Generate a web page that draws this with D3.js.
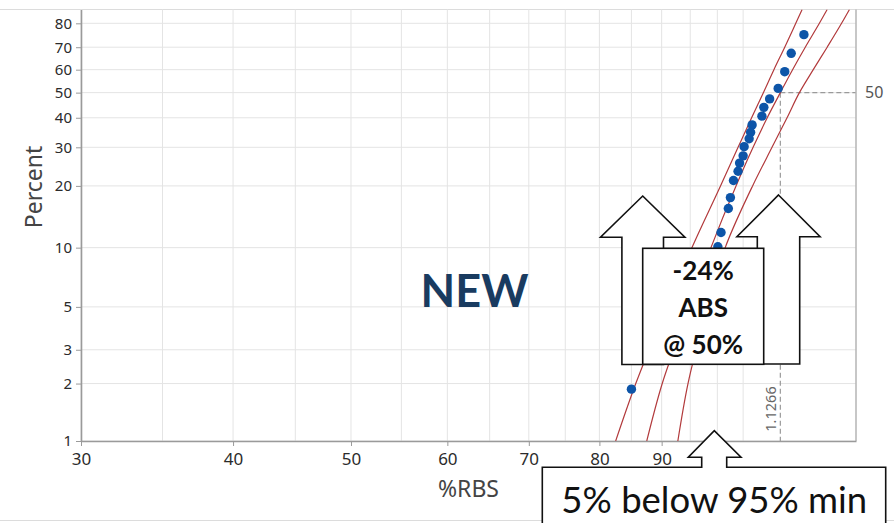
<!DOCTYPE html>
<html>
<head>
<meta charset="utf-8">
<script src="https://cdn.jsdelivr.net/npm/d3@7"></script>
<style>
  html, body { margin: 0; padding: 0; background: #fff; }
  svg { display: block; }
</style>
</head>
<body>
<svg id="chart" width="894" height="523"></svg>
<script>
// ---- data ----
// observed strength values (%RBS) and their plotting positions (percent)
const pointValues = [117.8, 115.0, 113.6, 112.2, 110.4, 109.2, 108.8, 106.8, 106.5, 106.2,
                     105.2, 105.0, 104.3, 104.0, 103.1, 102.5, 102.1, 100.7, 100.1, 85.0];
const pointPercents = [75.4, 67.3, 59.1, 51.8, 47.4, 44.0, 40.6, 37.4, 34.8, 32.7,
                       30.2, 27.5, 25.5, 23.4, 21.2, 17.6, 15.6, 11.9, 10.1, 1.87];

// fitted line and its confidence bounds, sampled at these percents
const curvePercents = [1, 2, 5, 10, 20, 30, 40, 50, 60, 70, 80, 85.1];
const fitValues     = [87.5, 90.1, 94.9, 98.8, 103.6, 107.0, 109.9, 112.66, 115.3, 118.1, 121.3, 123.1];
const lowerValues   = [82.5, 85.7, 90.9, 95.3, 100.6, 104.0, 106.7, 109.1, 111.3, 113.6, 116.0, 117.4];
const upperValues   = [92.8, 94.6, 98.2, 101.5, 106.9, 110.9, 114.1, 116.8, 119.9, 123.1, 126.5, 128.4];

const medianValue = 112.66;   // value at 50 %
const medianLabel = "1.1266";
const medianPercent = 50;

const xTickValues = [30, 40, 50, 60, 70, 80, 90];
const xGridValues = [30, 35, 40, 45, 50, 55, 60, 65, 70, 75, 80, 85, 90, 95, 100, 105];
const yTickValues = [1, 2, 3, 5, 10, 20, 30, 40, 50, 60, 70, 80];

const xDomain = [30, 130];
const yDomain = [1, 85.1];

// ---- layout ----
const svg = d3.select("#chart");
const W = 894, H = 523;
const plot = { left: 81, right: 856, top: 9.5, bottom: 441 };

const axisFont = "'Noto Sans', 'Open Sans', sans-serif";
const calloutFont = "Lato, Carlito, 'Noto Sans', sans-serif";

// ---- scales ----
const xScale = d3.scaleLog().domain(xDomain).range([plot.left, plot.right]);

// Weibull probability scale: linear in ln(-ln(1-p))
const weib = p => Math.log(-Math.log(1 - p / 100));
const yLin = d3.scaleLinear().domain(yDomain.map(weib)).range([plot.bottom, plot.top]);
function makeProbScale() {
  const s = p => yLin(weib(p));
  s.domain = () => yDomain.slice();
  s.range = () => yLin.range();
  s.copy = () => makeProbScale();
  s.ticks = () => yTickValues.slice();
  s.tickFormat = () => d3.format("");
  return s;
}
const yScale = makeProbScale();

// ---- page frame lines ----
svg.append("rect").attr("width", W).attr("height", H).attr("fill", "#fff");
svg.append("line").attr("x1", 0).attr("x2", W).attr("y1", 9.5).attr("y2", 9.5)
  .attr("stroke", "#dcdcdc").attr("stroke-width", 1);
svg.append("line").attr("x1", 0).attr("x2", W).attr("y1", 520.5).attr("y2", 520.5)
  .attr("stroke", "#dcdcdc").attr("stroke-width", 1);

// ---- grid ----
const grid = svg.append("g").attr("class", "grid");
grid.selectAll("line.v").data(xGridValues).join("line").attr("class", "v")
  .attr("x1", d => xScale(d)).attr("x2", d => xScale(d))
  .attr("y1", plot.top).attr("y2", plot.bottom)
  .attr("stroke", "#e4e4e4").attr("stroke-width", 1);
grid.selectAll("line.h").data(yTickValues).join("line").attr("class", "h")
  .attr("x1", plot.left).attr("x2", plot.right)
  .attr("y1", d => yScale(d)).attr("y2", d => yScale(d))
  .attr("stroke", "#e4e4e4").attr("stroke-width", 1);

// ---- reference lines at the 50 % point ----
const ref = svg.append("g").attr("stroke", "#9a9a9a").attr("stroke-width", 1.2)
  .attr("stroke-dasharray", "5,3").attr("fill", "none");
ref.append("line")
  .attr("x1", xScale(medianValue)).attr("x2", plot.right)
  .attr("y1", yScale(medianPercent)).attr("y2", yScale(medianPercent));
ref.append("line")
  .attr("x1", xScale(medianValue)).attr("x2", xScale(medianValue))
  .attr("y1", yScale(medianPercent)).attr("y2", plot.bottom);

// value label written upward alongside the vertical reference line
svg.append("text")
  .attr("transform", `translate(${xScale(medianValue) - 4},409) rotate(-90)`)
  .attr("text-anchor", "middle")
  .attr("font-family", axisFont).attr("font-size", 14.5).attr("fill", "#666")
  .text(medianLabel);

svg.append("text")
  .attr("x", plot.right + 9).attr("y", yScale(medianPercent)).attr("dy", "0.35em")
  .attr("font-family", axisFont).attr("font-size", 16).attr("fill", "#555")
  .text(String(medianPercent));

// ---- frame / axes ----
svg.append("line").attr("x1", plot.right).attr("x2", plot.right)
  .attr("y1", plot.top).attr("y2", plot.bottom)
  .attr("stroke", "#b4b4b4").attr("stroke-width", 1.5);

const xAxis = d3.axisBottom(xScale).tickValues(xTickValues)
  .tickFormat(d3.format("d")).tickSizeInner(5).tickSizeOuter(0).tickPadding(7);
const gx = svg.append("g").attr("transform", `translate(0,${plot.bottom})`).call(xAxis);
gx.select(".domain").attr("stroke", "#9a9a9a").attr("stroke-width", 1.6);
gx.selectAll(".tick line").attr("stroke", "#9a9a9a");
gx.selectAll(".tick text").attr("font-family", axisFont).attr("font-size", 17).attr("fill", "#2b2b2b");

const yAxis = d3.axisLeft(yScale).tickValues(yTickValues)
  .tickFormat(d3.format("d")).tickSizeInner(5).tickSizeOuter(0).tickPadding(4);
const gy = svg.append("g").attr("transform", `translate(${plot.left},0)`).call(yAxis);
gy.select(".domain").attr("stroke", "#9a9a9a").attr("stroke-width", 1.6);
gy.selectAll(".tick line").attr("stroke", "#9a9a9a");
gy.selectAll(".tick text").attr("font-family", axisFont).attr("font-size", 15).attr("fill", "#2b2b2b");

// axis titles
svg.append("text")
  .attr("x", (plot.left + plot.right) / 2).attr("y", 497)
  .attr("text-anchor", "middle")
  .attr("font-family", axisFont).attr("font-size", 23).attr("fill", "#444")
  .text("%RBS");
svg.append("text")
  .attr("transform", "translate(42,187) rotate(-90)")
  .attr("text-anchor", "middle")
  .attr("font-family", axisFont).attr("font-size", 23).attr("fill", "#444")
  .text("Percent");

// ---- fit and confidence bounds ----
svg.append("clipPath").attr("id", "plotClip").append("rect")
  .attr("x", plot.left).attr("y", plot.top)
  .attr("width", plot.right - plot.left).attr("height", plot.bottom - plot.top);

const curveGroup = svg.append("g").attr("clip-path", "url(#plotClip)");
const lineGen = values => d3.line()
  .x((p, i) => xScale(values[i]))
  .y(p => yScale(p))
  .curve(d3.curveMonotoneY)(curvePercents);

[lowerValues, fitValues, upperValues].forEach(vals => {
  curveGroup.append("path")
    .attr("d", lineGen(vals))
    .attr("fill", "none")
    .attr("stroke", "#b23a3c")
    .attr("stroke-width", 1.2);
});

// ---- data points ----
curveGroup.selectAll("circle").data(pointValues).join("circle")
  .attr("cx", d => xScale(d))
  .attr("cy", (d, i) => yScale(pointPercents[i]))
  .attr("r", 4.7)
  .attr("fill", "#0d55a8");

// ---- annotations ----
svg.append("text")
  .attr("x", 474.5).attr("y", 306.5)
  .attr("text-anchor", "middle")
  .attr("font-family", calloutFont).attr("font-weight", 700)
  .attr("font-size", 45).attr("fill", "#193b60")
  .text("NEW");

const shapeStyle = sel => sel.attr("fill", "#fff").attr("stroke", "#111")
  .attr("stroke-width", 1.6).attr("stroke-linejoin", "miter");

// two upward block arrows behind the central label
function upArrow(cx, tipY, headHalf, headY, shaftHalf, bottomY) {
  return `M${cx},${tipY} L${cx + headHalf},${headY} L${cx + shaftHalf},${headY} ` +
         `L${cx + shaftHalf},${bottomY} L${cx - shaftHalf},${bottomY} ` +
         `L${cx - shaftHalf},${headY} L${cx - headHalf},${headY} Z`;
}
svg.append("path").attr("d", upArrow(642.7, 196, 42.2, 237.3, 20.8, 364.5)).call(shapeStyle);
svg.append("path").attr("d", upArrow(778.5, 195, 41.6, 236.7, 21.2, 364)).call(shapeStyle);

svg.append("rect")
  .attr("x", 642.7).attr("y", 248.3).attr("width", 121).attr("height", 116)
  .call(shapeStyle);

const boxLines = ["-24%", "ABS", "@ 50%"];
svg.append("g").selectAll("text").data(boxLines).join("text")
  .attr("x", 703.2).attr("y", (d, i) => 280 + i * 37)
  .attr("text-anchor", "middle")
  .attr("font-family", calloutFont).attr("font-weight", 700)
  .attr("font-size", 26).attr("fill", "#111")
  .text(d => d);

// bottom callout with an upward pointer
const cx = 714.3;
svg.append("path")
  .attr("d", `M542.3,467.3 L${cx - 12.6},467.3 L${cx - 12.6},457.3 L${cx - 26},457.3 ` +
             `L${cx},430.7 L${cx + 26.7},457.3 L${cx + 12.4},457.3 L${cx + 12.4},467.3 ` +
             `L885.7,467.3 L885.7,540 L542.3,540 Z`)
  .call(shapeStyle);
svg.append("text")
  .attr("x", cx).attr("y", 512.5)
  .attr("text-anchor", "middle")
  .attr("font-family", calloutFont)
  .attr("font-size", 36.5).attr("fill", "#111")
  .text("5% below 95% min");
</script>
</body>
</html>
